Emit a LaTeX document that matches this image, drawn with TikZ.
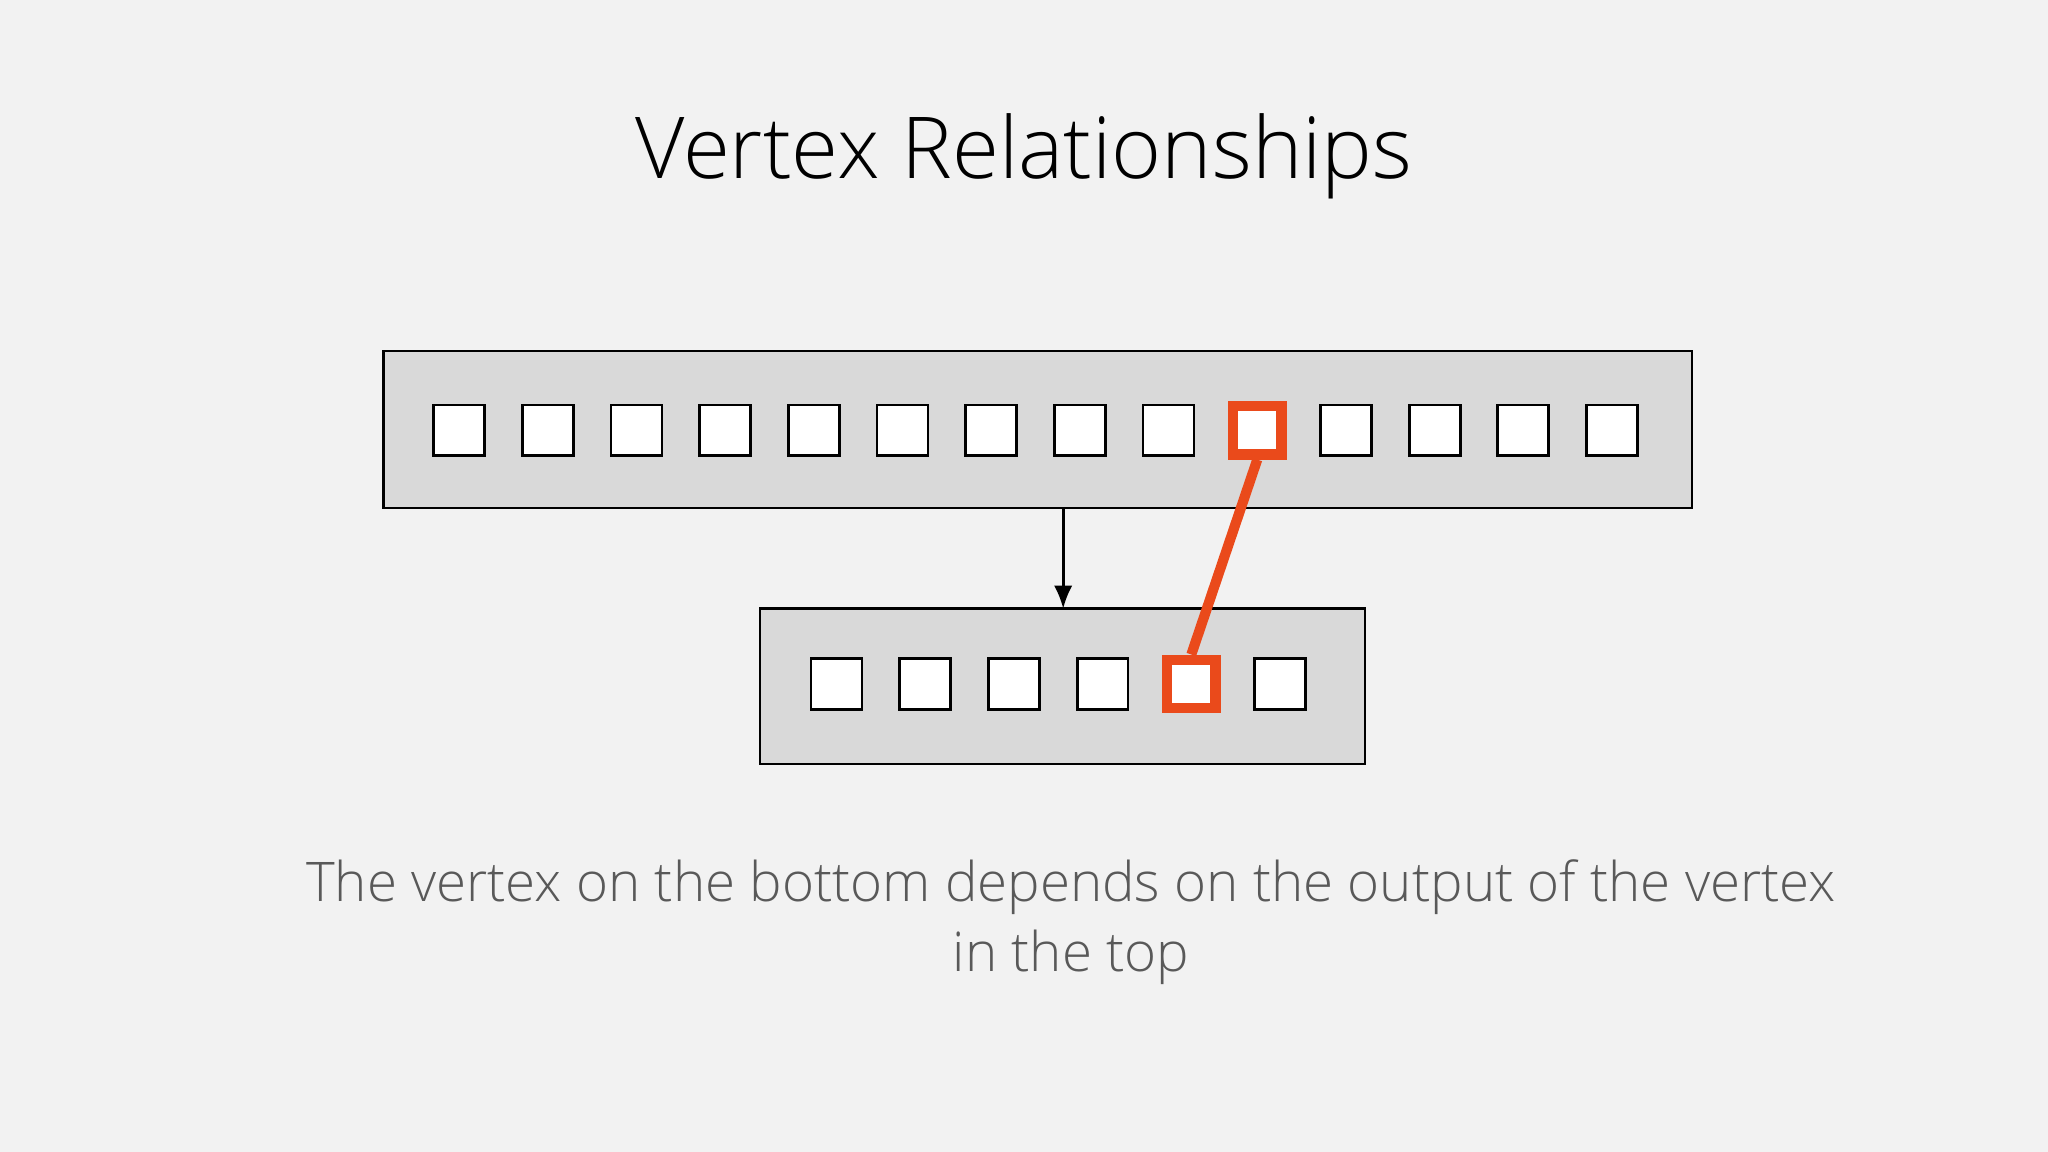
\documentclass[tikz,border=0pt]{standalone}
\usepackage{fontspec}
\setmainfont{Open Sans}
\newfontfamily\lightfont{Open Sans Light}[BoldFont={Open Sans}]
\usetikzlibrary{arrows.meta}
\definecolor{bg}{HTML}{F2F2F2}
\definecolor{panel}{HTML}{D9D9D9}
\definecolor{hot}{HTML}{EA4A1B}
\definecolor{cap}{HTML}{595959}
\tikzset{
  panelbox/.style={draw=black, fill=panel, line width=0.5pt, minimum width=#1},
  cell/.style={draw=black, fill=white, line width=0.6pt, minimum size=0.39cm, inner sep=0pt},
  hotcell/.style={draw=hot, fill=white, line width=2.2pt, minimum size=0.37cm, inner sep=0pt},
}
\begin{document}
\begin{tikzpicture}[x=0.01cm,y=-0.01cm]
\fill[bg] (0,0) rectangle (1568,882);
\useasboundingbox (0,0) rectangle (1568,882);
\node (title) at (784,120) {\fontsize{18.6}{22}\selectfont\lightfont Vertex Relationships};
\node[panelbox=10.01cm, minimum height=1.2cm] (top) at (794.5,329) {};
\node[panelbox=4.63cm, minimum height=1.19cm] (bot) at (813.5,525.5) {};
\foreach \i in {0,...,13}{
  \ifnum\i=9
    \node[hotcell] (t\i) at ({351.5+67.9*\i},329.5) {};
  \else
    \node[cell] (t\i) at ({351.5+67.9*\i},329.5) {};
  \fi
}
\foreach \i in {0,...,5}{
  \ifnum\i=4
    \node[hotcell] (b\i) at ({640.5+67.9*\i},523.5) {};
  \else
    \node[cell] (b\i) at ({640.5+67.9*\i},523.5) {};
  \fi
}
\coordinate (as) at (814,389);
\coordinate (ae) at (814,466);
\draw[-{Latex[length=5pt,width=4pt]}, line width=0.6pt] (as) -- (ae);
\draw[hot, line width=2.2pt] (t9.south) -- (b4.north);
\node[text=cap, align=center, font={\fontsize{11.9}{15.4}\selectfont\lightfont}] (caption) at (820,706)
  {The vertex on the bottom depends on the output of the vertex\\in the top};
\end{tikzpicture}
\end{document}
